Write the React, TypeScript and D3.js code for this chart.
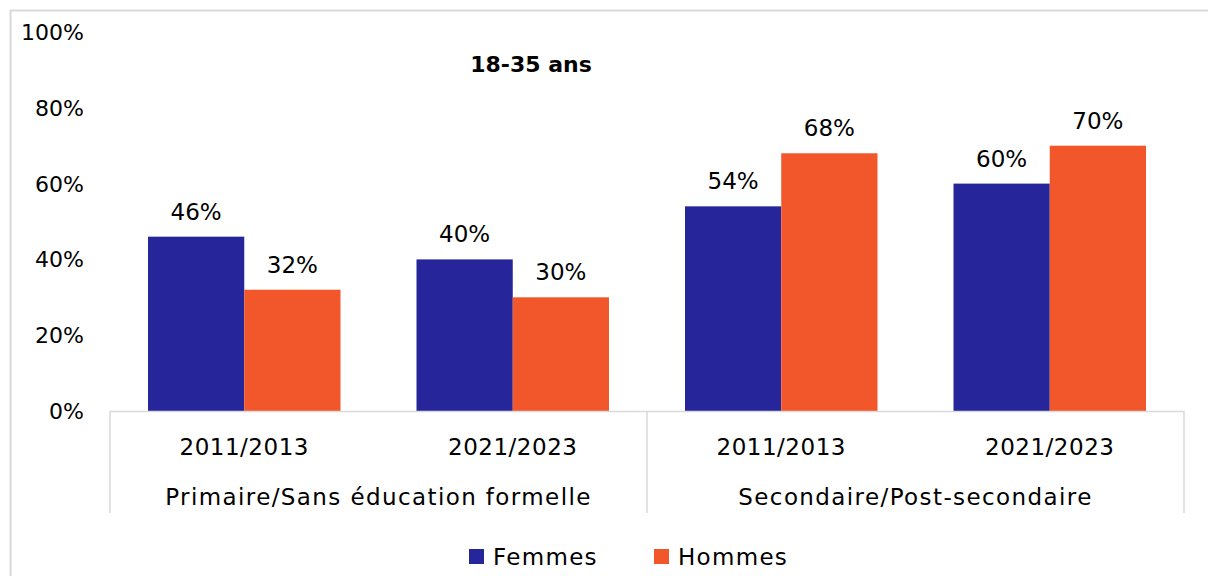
import React from "react";
import * as d3 from "d3";

const groups = ["Primaire/Sans éducation formelle", "Secondaire/Post-secondaire"];
const periods = ["2011/2013", "2021/2023"];
const seriesNames = ["Femmes", "Hommes"];
const femmes = [0.46, 0.40, 0.54, 0.60];
const hommes = [0.32, 0.30, 0.68, 0.70];
const yTicks = [0, 0.2, 0.4, 0.6, 0.8, 1.0];
const title = "18-35 ans";

const colors: Record<string, string> = { Femmes: "#27259A", Hommes: "#F2572B" };
const FONT = "'DejaVu Sans', sans-serif";

export default function App() {
  const W = 1208, H = 576;
  const x0 = 110, x1 = 1184;
  const yBase = 411, yTop = 32;
  const y = d3.scaleLinear().domain([0, 1]).range([yBase, yTop]);
  const gx = d3.scaleBand<string>().domain(groups).range([x0, x1]).padding(0);
  const px = d3.scaleBand<string>().domain(periods).range([0, gx.bandwidth()]).padding(0);
  const sx = d3.scaleBand<string>().domain(seriesNames).range([38, px.bandwidth() - 38]).padding(0);
  const fmt = d3.format(".0%");

  const bars: { x: number; v: number; s: string; key: string }[] = [];
  groups.forEach((g, gi) => {
    periods.forEach((p, pi) => {
      const idx = gi * periods.length + pi;
      seriesNames.forEach((s) => {
        const v = s === "Femmes" ? femmes[idx] : hommes[idx];
        bars.push({ x: (gx(g) ?? 0) + (px(p) ?? 0) + (sx(s) ?? 0), v, s, key: `${g}-${p}-${s}` });
      });
    });
  });

  const lineColor = "#d9d9d9";
  const fs = 23;
  return (
    <svg width={W} height={H} style={{ position: "absolute", left: 0, top: 0, background: "#fff" }}>
      <rect x={10.5} y={10.5} width={W + 10} height={H + 10} fill="#fff" stroke={lineColor} strokeWidth={2} />
      <text x={531} y={72} textAnchor="middle" fontFamily={FONT} fontWeight="bold" fontSize={22} fill="#000">
        {title}
      </text>
      {yTicks.map((t) => (
        <text key={t} x={84} y={y(t) + 8} textAnchor="end" fontFamily={FONT} fontSize={22} fill="#000">
          {fmt(t)}
        </text>
      ))}
      {bars.map((b) => (
        <g key={b.key}>
          <rect x={b.x} y={y(b.v)} width={sx.bandwidth()} height={yBase - y(b.v)} fill={colors[b.s]} />
          <text x={b.x + sx.bandwidth() / 2} y={y(b.v) - 17} textAnchor="middle" fontFamily={FONT} fontSize={fs} fill="#000">
            {fmt(b.v)}
          </text>
        </g>
      ))}
      <line x1={x0} x2={x1} y1={yBase + 0.5} y2={yBase + 0.5} stroke={lineColor} strokeWidth={1.5} />
      {[x0, (gx(groups[1]) ?? 0), x1].map((xx, i) => (
        <line key={i} x1={xx} x2={xx} y1={yBase} y2={513} stroke={lineColor} strokeWidth={1.5} />
      ))}
      {groups.map((g) =>
        periods.map((p) => (
          <text key={g + p} x={(gx(g) ?? 0) + (px(p) ?? 0) + px.bandwidth() / 2} y={455} textAnchor="middle" fontFamily={FONT} fontSize={fs} letterSpacing={0.5} fill="#000">
            {p}
          </text>
        ))
      )}
      {groups.map((g) => (
        <text key={g} x={(gx(g) ?? 0) + gx.bandwidth() / 2} y={505} textAnchor="middle" fontFamily={FONT} fontSize={fs} letterSpacing={1.4} fill="#000">
          {g}
        </text>
      ))}
      {seriesNames.map((s, i) => {
        const lx = [469, 654][i];
        return (
          <g key={s}>
            <rect x={lx} y={549} width={15} height={15} fill={colors[s]} />
            <text x={lx + 24} y={565} fontFamily={FONT} fontSize={fs} letterSpacing={1.3} fill="#000">
              {s}
            </text>
          </g>
        );
      })}
    </svg>
  );
}
